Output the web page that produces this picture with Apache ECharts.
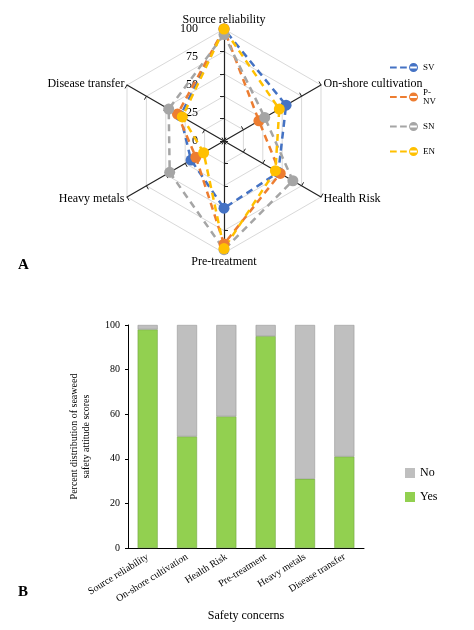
<!DOCTYPE html>
<html>
<head>
<meta charset="utf-8">
<script src="https://cdn.jsdelivr.net/npm/echarts@6/dist/echarts.min.js"></script>
<style>html,body{margin:0;background:#fff}#c{width:474px;height:630px}</style>
</head>
<body>
<div id="c"></div>
<script>
// radar data (panel A), listed clockwise from the top
const radarAxes = ['Source reliability', 'On-shore cultivation', 'Health Risk', 'Pre-treatment', 'Heavy metals', 'Disease transfer'];
const seriesNames = ['SV', 'P-\nNV', 'SN', 'EN'];
const sv = [100, 64, 56, 60, 34, 45];
const pnv = [100, 36, 58, 92, 29, 48];
const sn = [95, 42, 71, 97, 56, 57];
const en = [100, 57, 53, 96, 21, 43];
const radarColors = ['#4472c4', '#ed7d31', '#a5a5a5', '#ffc000'];
const radarTicks = [0, 25, 50, 75, 100];

// bar data (panel B)
const concerns = ['Source reliability', 'On-shore cultivation', 'Health Risk', 'Pre-treatment', 'Heavy metals', 'Disease transfer'];
const yes = [98, 50, 59, 95, 31, 41];
const no = [2, 50, 41, 5, 69, 59];

const font = 'Liberation Serif';
var chart = echarts.init(document.getElementById('c'));

// echarts radar runs counter-clockwise, so flip the order after the first axis
function cw(arr) { return [arr[0]].concat(arr.slice(1).reverse()); }

const legendIcon = 'path://M0,4h6v2h-6zM9,4h6v2h-6zM18,4h6v2h-6zM21,1a4,4 0 1,0 0.01,0z';

const allRadar = [sv, pnv, sn, en];
var series = allRadar.map(function (d, i) {
  return {
    type: 'radar', name: seriesNames[i], radarIndex: 0,
    symbol: 'circle', symbolSize: 11,
    lineStyle: { type: [7, 5], width: 2.5, color: radarColors[i] },
    itemStyle: { color: radarColors[i] },
    data: [{ value: cw(d), name: seriesNames[i] }]
  };
});
series.push({ type: 'bar', name: 'Yes', stack: 'a', data: yes, barWidth: 20,
  itemStyle: { color: '#92d050', borderColor: '#6a9a3a', borderWidth: 0.5 } });
series.push({ type: 'bar', name: 'No', stack: 'a', data: no, barWidth: 20,
  itemStyle: { color: '#bfbfbf', borderColor: '#8c8c8c', borderWidth: 0.5 } });

chart.setOption({
  backgroundColor: '#fff',
  textStyle: { fontFamily: font },
  animation: false,
  radar: {
    center: [224, 141], radius: 112, shape: 'polygon', splitNumber: 5,
    indicator: cw(radarAxes).map(function (n) { return { name: n, max: 100, min: 0 }; }),
    axisName: { color: '#000', fontSize: 12, fontFamily: font },
    nameGap: 3,
    axisLine: { lineStyle: { color: '#222', width: 1.2 } },
    axisTick: { show: true, length: 4, lineStyle: { color: '#222' } },
    splitLine: { lineStyle: { color: '#d9d9d9' } },
    splitArea: { show: false }
  },
  polar: { center: [224, 141], radius: 112 },
  angleAxis: { show: false, startAngle: 90, min: 0, max: 360 },
  radiusAxis: {
    min: 0, max: 100, interval: 25,
    axisLine: { show: false }, axisTick: { show: false }, splitLine: { show: false },
    axisLabel: { color: '#000', fontSize: 12, fontFamily: font, margin: 4, align: 'right',
      padding: [0, 22, 0, 0],
      formatter: function (v) { return radarTicks.indexOf(v) >= 0 ? v : ''; } }
  },
  legend: [{
    data: seriesNames, orient: 'vertical', left: 385, top: 58, itemGap: 16,
    icon: legendIcon, itemWidth: 28, itemHeight: 10,
    textStyle: { fontSize: 9, fontFamily: font, color: '#000' }
  }, {
    data: ['No', 'Yes'], orient: 'vertical', left: 400, top: 462, itemGap: 12,
    icon: 'rect', itemWidth: 10, itemHeight: 10,
    itemStyle: { borderWidth: 0 },
    textStyle: { fontSize: 12, fontFamily: font, color: '#000' }
  }],
  grid: { left: 128, top: 325, width: 236, height: 223 },
  xAxis: {
    type: 'category', data: concerns,
    axisLine: { lineStyle: { color: '#000' } }, axisTick: { show: false },
    axisLabel: { rotate: 32, color: '#000', fontSize: 10, fontFamily: font, interval: 0, margin: 8 },
    name: 'Safety concerns', nameLocation: 'middle', nameGap: 62,
    nameTextStyle: { color: '#000', fontSize: 12, fontFamily: font }
  },
  yAxis: {
    type: 'value', min: 0, max: 100, interval: 20,
    axisLine: { show: true, lineStyle: { color: '#000' } },
    axisTick: { show: true, inside: false, length: 3 },
    splitLine: { show: false },
    axisLabel: { color: '#000', fontSize: 10, fontFamily: font },
    name: 'Percent distribution of seaweed\nsafety attitude scores', nameLocation: 'middle', nameGap: 36,
    nameTextStyle: { color: '#000', fontSize: 10, fontFamily: font, lineHeight: 12 }
  },
  graphic: [
    { type: 'text', left: 18, top: 258, style: { text: 'A', font: 'bold 15px Liberation Serif', fill: '#000' } },
    { type: 'text', left: 18, top: 585, style: { text: 'B', font: 'bold 15px Liberation Serif', fill: '#000' } }
  ],
  series: series
});
</script>
</body>
</html>
